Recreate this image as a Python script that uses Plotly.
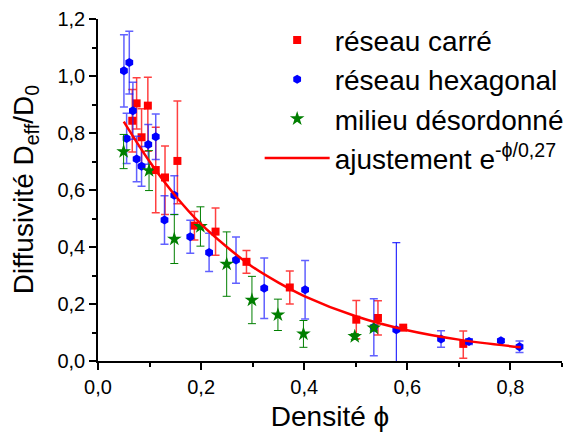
import plotly.graph_objects as go

# ---- data ----
sq_x = [0.0665, 0.0749, 0.0845, 0.0967, 0.112, 0.130, 0.154, 0.187, 0.228, 0.288, 0.372, 0.501, 0.543, 0.592, 0.7085]
sq_y = [0.843, 0.904, 0.785, 0.896, 0.670, 0.644, 0.702, 0.475, 0.454, 0.348, 0.258, 0.145, 0.151, 0.117, 0.060]
sq_ep = [0.11, 0.09, 0.10, 0.10, 0.15, 0.11, 0.21, 0.05, 0.083, 0.04, 0.058, 0.067, 0.06, 0.0, 0.045]
sq_em = [0.11, 0.09, 0.10, 0.16, 0.15, 0.13, 0.15, 0.05, 0.083, 0.04, 0.058, 0.067, 0.06, 0.0, 0.05]

hx_x = [0.0503, 0.0607, 0.0677, 0.0555, 0.0749, 0.0845, 0.0975, 0.112, 0.129, 0.148, 0.179, 0.2155,
        0.2677, 0.3224, 0.4017, 0.535, 0.6654, 0.7196, 0.7815, 0.8176]
hx_y = [1.018, 1.047, 0.878, 0.781, 0.709, 0.683, 0.760, 0.787, 0.495, 0.582, 0.436, 0.381,
        0.354, 0.255, 0.250, 0.118, 0.077, 0.068, 0.071, 0.050]
hx_e = [0.127, 0.11, 0.10, 0.088, 0.08, 0.07, 0.07, 0.08, 0.085, 0.068, 0.058, 0.067,
        0.081, 0.106, 0.103, 0.10, 0.029, 0.01, 0.005, 0.02]
# the one hexagonal point with a very large error bar
hx_big_x = [0.5786]
hx_big_y = [0.110]
hx_big_e = [0.305]

st_x = [0.0497, 0.099, 0.148, 0.1987, 0.2496, 0.2986, 0.349, 0.3985, 0.498, 0.535]
st_y = [0.735, 0.668, 0.428, 0.472, 0.340, 0.214, 0.162, 0.095, 0.086, 0.116]
st_e = [0.06, 0.07, 0.086, 0.069, 0.113, 0.083, 0.055, 0.047, 0.01, 0.01]

fit_x = [0.05, 0.10, 0.15, 0.20, 0.25, 0.30, 0.35, 0.40, 0.50, 0.60, 0.70, 0.82]
fit_y = [0.84, 0.70, 0.58, 0.48, 0.40, 0.33, 0.275, 0.228, 0.157, 0.108, 0.075, 0.048]

x_ticks = [0.0, 0.2, 0.4, 0.6, 0.8]
y_ticks = [0.0, 0.2, 0.4, 0.6, 0.8, 1.0, 1.2]

FONT = "Liberation Sans, Arial, sans-serif"
RED = "#FF0000"
BLUE = "#0000FF"
GREEN = "#007F00"

fig = go.Figure()

fig.add_trace(go.Scatter(
    x=sq_x, y=sq_y, mode="markers", name="réseau carré",
    marker=dict(symbol="square", size=8, color=RED),
    error_y=dict(type="data", array=sq_ep, arrayminus=sq_em, symmetric=False,
                 color="rgba(255,0,0,0.75)", thickness=1.5, width=4),
))
fig.add_trace(go.Scatter(
    x=hx_x, y=hx_y, mode="markers", name="réseau hexagonal",
    marker=dict(symbol="hexagon", size=9, color=BLUE),
    error_y=dict(type="data", array=hx_e, color="rgba(30,30,255,0.7)", thickness=1.5, width=4),
))
fig.add_trace(go.Scatter(
    x=hx_big_x, y=hx_big_y, mode="markers", name="réseau hexagonal", showlegend=False,
    marker=dict(symbol="hexagon", size=9, color=BLUE),
    error_y=dict(type="data", array=hx_big_e, color=BLUE, thickness=1, width=4),
))
fig.add_trace(go.Scatter(
    x=st_x, y=st_y, mode="markers", name="milieu désordonné",
    marker=dict(symbol="star", size=11, color=GREEN),
    error_y=dict(type="data", array=st_e, color=GREEN, thickness=1, width=4),
))
fig.add_trace(go.Scatter(
    x=fit_x, y=fit_y, mode="lines", name="ajustement e<sup>-ϕ/0,27</sup>",
    line=dict(color=RED, width=2.5, shape="spline"),
))

axis_common = dict(
    showline=True, linecolor="black", linewidth=1.5, mirror=False,
    ticks="outside", ticklen=7, tickwidth=1.5, tickcolor="black",
    showgrid=False, zeroline=False,
    tickfont=dict(family=FONT, size=20, color="black"),
    tickformat=".1f",
    minor=dict(ticks="outside", ticklen=4, tickwidth=1.5, tickcolor="black", dtick=0.1, showgrid=False),
)

fig.update_xaxes(range=[0, 0.9], tickvals=x_ticks,
                 title=dict(text="Densité ϕ", font=dict(family=FONT, size=28, color="black"), standoff=10),
                 **axis_common)
fig.update_yaxes(range=[0, 1.2], tickvals=y_ticks, **axis_common)

fig.add_annotation(
    text="Diffusivité D<sub>eff</sub>/D<sub>0</sub>",
    xref="paper", yref="paper", x=-0.157, y=0.5,
    xanchor="center", yanchor="middle", textangle=-90, showarrow=False,
    font=dict(family=FONT, size=28, color="black"),
)

fig.update_layout(
    width=563, height=424,
    margin=dict(l=90, r=9, t=11, b=71, autoexpand=False),
    paper_bgcolor="white", plot_bgcolor="white",
    separators=", ",
    font=dict(family=FONT, color="black"),
    legend=dict(xref="container", yref="container", x=0.447, y=0.983,
                xanchor="left", yanchor="top",
                font=dict(family=FONT, size=28, color="black"),
                bgcolor="rgba(0,0,0,0)", itemwidth=65, tracegroupgap=0),
)

fig.write_html("out.html")
